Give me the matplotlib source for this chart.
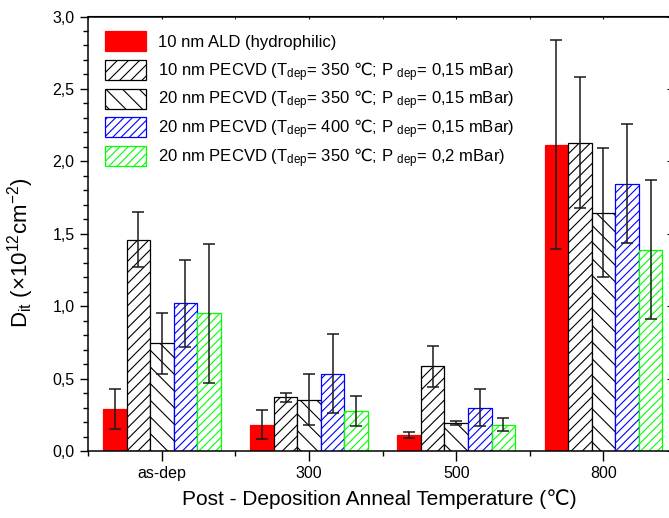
import matplotlib
matplotlib.use("Agg")
import matplotlib.pyplot as plt
from matplotlib.ticker import MultipleLocator, FixedLocator, FixedFormatter
from matplotlib.legend_handler import HandlerPatch, update_from_first_child
from matplotlib.container import BarContainer
from matplotlib.patches import Rectangle
import numpy as np

# Categories (post-deposition anneal temperature)
categories = ["as-dep", "300", "500", "800"]

# Series labels
labels = [
    "10 nm ALD (hydrophilic)",
    r"10 nm PECVD (T$_{\mathregular{dep}}$= 350 $\mathsf{℃}$; P $_{\mathregular{dep}}$= 0,15 mBar)",
    r"20 nm PECVD (T$_{\mathregular{dep}}$= 350 $\mathsf{℃}$; P $_{\mathregular{dep}}$= 0,15 mBar)",
    r"20 nm PECVD (T$_{\mathregular{dep}}$= 400 $\mathsf{℃}$; P $_{\mathregular{dep}}$= 0,15 mBar)",
    r"20 nm PECVD (T$_{\mathregular{dep}}$= 350 $\mathsf{℃}$; P $_{\mathregular{dep}}$= 0,2 mBar)",
]

# Dit values (x10^12 cm^-2) and their uncertainties
ald_10 = [0.29, 0.18, 0.11, 2.115]
ald_10_err = [0.135, 0.10, 0.02, 0.72]
pecvd_10_350 = [1.46, 0.37, 0.585, 2.13]
pecvd_10_350_err = [0.19, 0.033, 0.14, 0.455]
pecvd_20_350 = [0.745, 0.355, 0.195, 1.645]
pecvd_20_350_err = [0.21, 0.175, 0.013, 0.445]
pecvd_20_400 = [1.02, 0.535, 0.30, 1.845]
pecvd_20_400_err = [0.30, 0.275, 0.125, 0.41]
pecvd_20_350_p02 = [0.95, 0.275, 0.18, 1.39]
pecvd_20_350_p02_err = [0.48, 0.105, 0.045, 0.48]

y_ticks = [0.0, 0.5, 1.0, 1.5, 2.0, 2.5, 3.0]
y_tick_labels = ["0,0", "0,5", "1,0", "1,5", "2,0", "2,5", "3,0"]

series = [ald_10, pecvd_10_350, pecvd_20_350, pecvd_20_400, pecvd_20_350_p02]
errors = [ald_10_err, pecvd_10_350_err, pecvd_20_350_err, pecvd_20_400_err,
          pecvd_20_350_p02_err]
styles = [
    dict(color="#FF0000", edgecolor="#FF0000", hatch=None),
    dict(color="white", edgecolor="black", hatch="///"),
    dict(color="white", edgecolor="black", hatch="\\\\"),
    dict(color="white", edgecolor="#0000FF", hatch="////"),
    dict(color="white", edgecolor="#00FF00", hatch="////"),
]

plt.rcParams["font.family"] = ["Liberation Sans", "DejaVu Sans"]
plt.rcParams["mathtext.fontset"] = "custom"
plt.rcParams["mathtext.rm"] = "Liberation Sans"
plt.rcParams["mathtext.it"] = "Liberation Sans:italic"
plt.rcParams["mathtext.bf"] = "Liberation Sans:bold"
plt.rcParams["mathtext.sf"] = "DejaVu Sans"
plt.rcParams["hatch.linewidth"] = 0.8

W, H = 669, 518
fig = plt.figure(figsize=(W / 100, H / 100), dpi=100)
left_px, right_px, top_px, bottom_px = 88.3, 677.0, 16.5, 451.0
ax = fig.add_axes([left_px / W, 1 - bottom_px / H,
                   (right_px - left_px) / W, (bottom_px - top_px) / H])

x = np.arange(1, len(categories) + 1)
width = 0.16
offsets = (np.arange(len(series)) - 2) * width

for vals, errs, st, lab, off in zip(series, errors, styles, labels, offsets):
    ax.bar(x + off, vals, width, label=lab, linewidth=0.9, zorder=2, **st)
    ax.errorbar(x + off, vals, yerr=errs, fmt="none", ecolor="#1a1a1a",
                elinewidth=1.1, capsize=4.4, capthick=1.1, zorder=3)

ax.set_xlim(0.5, 4.5)
ax.set_ylim(0, 3.0)

ax.xaxis.set_major_locator(FixedLocator(x))
ax.xaxis.set_major_formatter(FixedFormatter(categories))
ax.xaxis.set_minor_locator(FixedLocator(np.arange(0.5, 4.6, 1.0)))
ax.yaxis.set_major_locator(FixedLocator(y_ticks))
ax.yaxis.set_major_formatter(FixedFormatter(y_tick_labels))
ax.yaxis.set_minor_locator(MultipleLocator(0.1))

ax.tick_params(axis="both", which="major", direction="out", length=6,
               width=1.0, labelsize=11.5, pad=4)
ax.tick_params(axis="x", which="major", length=7)
ax.tick_params(axis="both", which="minor", direction="out", length=3.5,
               width=1.0)
for sp in ax.spines.values():
    sp.set_linewidth(1.1)

# mirrored inward ticks on the top and right spines
top = ax.secondary_xaxis("top")
top.xaxis.set_major_locator(FixedLocator(x))
top.xaxis.set_minor_locator(FixedLocator(np.arange(0.5, 4.6, 1.0)))
top.tick_params(which="both", direction="in", length=2, labeltop=False)
right = ax.secondary_yaxis("right")
right.yaxis.set_major_locator(FixedLocator(y_ticks))
right.yaxis.set_minor_locator(MultipleLocator(0.1))
right.tick_params(which="major", direction="in", length=7, labelright=False)
right.tick_params(which="minor", direction="in", length=3.5)

ax.set_xlabel("Post - Deposition Anneal Temperature (℃)", fontsize=15)
ax.xaxis.set_label_coords(0.4938, -0.0875)
ax.set_ylabel(r"D$_{\mathregular{it}}$ (×10$^{\mathregular{12}}$cm$^{\mathregular{-2}}$)",
              fontsize=16)
ax.yaxis.set_label_coords(-0.088, 0.455)

LEG_FS = 12.0
BOX_H = 14.4  # legend swatch height in points


def swatch(legend, orig_handle, xdescent, ydescent, width, height, fontsize):
    yc = 0.36 * fontsize
    return Rectangle((-xdescent, yc - BOX_H / 2), width, BOX_H)


ax.legend(loc="upper left", bbox_to_anchor=(0.0284, 0.9724), frameon=False,
          fontsize=LEG_FS, handlelength=2.45, handleheight=2.12,
          handletextpad=0.7, labelspacing=0.1, borderpad=0,
          borderaxespad=0,
          handler_map={BarContainer: HandlerPatch(
              patch_func=swatch, update_func=update_from_first_child)})

fig.savefig("out.png", dpi=100)
